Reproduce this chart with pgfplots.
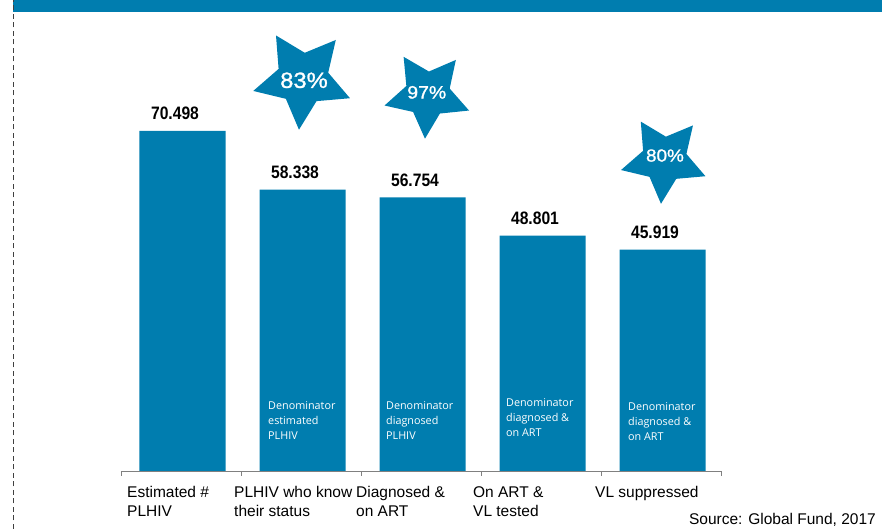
\documentclass[border=0pt]{standalone}
\usepackage{pgfplots}
\pgfplotsset{compat=1.18}
\usepackage{fontspec}
\setmainfont{Liberation Sans}
\newfontfamily\condfont{Liberation Sans}[FakeStretch=0.87]
\newfontfamily\starfont{Liberation Sans}[FakeBold=1.2, FakeStretch=1.08]
\newfontfamily\innerfont{Open Sans}
\usetikzlibrary{shapes.geometric}
\definecolor{barblue}{RGB}{0,125,175}
\definecolor{axisgray}{RGB}{128,128,128}
\begin{document}
\begin{tikzpicture}[x=1pt,y=1pt]
\useasboundingbox (-121,-58) rectangle (761,471);
\begin{axis}[
  at={(0,0)}, anchor=south west,
  scale only axis, width=600pt, height=458.2pt,
  xmin=-0.5, xmax=4.5, ymin=0, ymax=95,
  axis y line=none, axis x line*=bottom,
  x axis line style={axisgray, line width=0.8pt},
  ybar, bar width=86pt, bar shift=1.5pt,
  tick align=outside,
  xtick={-0.45,0.4417,1.458,2.433,3.45},
  xticklabels={{Estimated \#\\PLHIV},{PLHIV who know\\their status},{Diagnosed \&\\on ART},{On ART \&\\VL tested},{VL suppressed}},
  major tick length=0pt,
  xticklabel style={anchor=north west, align=left, inner sep=0pt, font=\fontsize{15.5}{19.5}\selectfont, yshift=-15pt},
  extra x ticks={-0.5,0.5,1.5,2.5,3.5,4.5},
  extra x tick labels={},
  extra x tick style={major tick length=5pt, tick style={axisgray, line width=0.8pt}},
  /pgf/number format/assume math mode=true,
  nodes near coords={\pgfmathprintnumber[fixed,fixed zerofill,precision=3]{\pgfplotspointmeta}},
  nodes near coords style={font=\condfont\bfseries\fontsize{18}{18}\selectfont, anchor=base, yshift=11pt, xshift=-7.5pt, inner sep=0pt, text=black},
  clip=false,
]
\addplot[fill=barblue, draw=none] coordinates {(0,70.498) (1,58.338) (2,56.754) (3,48.801) (4,45.919)};

\node[anchor=north west, inner sep=0pt, align=left, text=white, font=\innerfont\fontsize{10.8}{15}\selectfont] at (axis cs:0.725,14.5) {Denominator\\estimated\\PLHIV};
\node[anchor=north west, inner sep=0pt, align=left, text=white, font=\innerfont\fontsize{10.8}{15}\selectfont] at (axis cs:1.708,14.5) {Denominator\\diagnosed\\PLHIV};
\node[anchor=north west, inner sep=0pt, align=left, text=white, font=\innerfont\fontsize{10.8}{15}\selectfont] at (axis cs:2.708,15.1) {Denominator\\diagnosed \&\\on ART};
\node[anchor=north west, inner sep=0pt, align=left, text=white, font=\innerfont\fontsize{10.8}{15}\selectfont] at (axis cs:3.725,14.3) {Denominator\\diagnosed \&\\on ART};

\node[star, star points=5, star point ratio=1.95, fill=barblue, minimum size=102pt, inner sep=0pt, shape border rotate=31.7] at (axis cs:1.015,81.3) {};
\node[text=white, inner sep=0pt, font=\starfont\fontsize{22}{22}\selectfont] at (axis cs:1.025,81.0) {83\%};
\node[star, star points=5, star point ratio=1.95, fill=barblue, minimum size=89pt, inner sep=0pt, shape border rotate=32.6] at (axis cs:2.055,78.1) {};
\node[text=white, inner sep=0pt, font=\starfont\fontsize{18}{18}\selectfont] at (axis cs:2.048,78.5) {97\%};
\node[star, star points=5, star point ratio=1.95, fill=barblue, minimum size=89pt, inner sep=0pt, shape border rotate=31.8] at (axis cs:4.027,64.6) {};
\node[text=white, inner sep=0pt, font=\starfont\fontsize{17.5}{17.5}\selectfont] at (axis cs:4.033,65.4) {80\%};
\end{axis}
\fill[barblue] (-108,459) rectangle (761,471);
\draw[dash pattern=on 5pt off 3.5pt, line width=0.9pt, black!75] (-108,-58) -- (-108,471);
\node[anchor=base east, inner sep=0pt, font=\fontsize{15.5}{18}\selectfont] at (755,-54) {Source: Global Fund, 2017};
\end{tikzpicture}
\end{document}
